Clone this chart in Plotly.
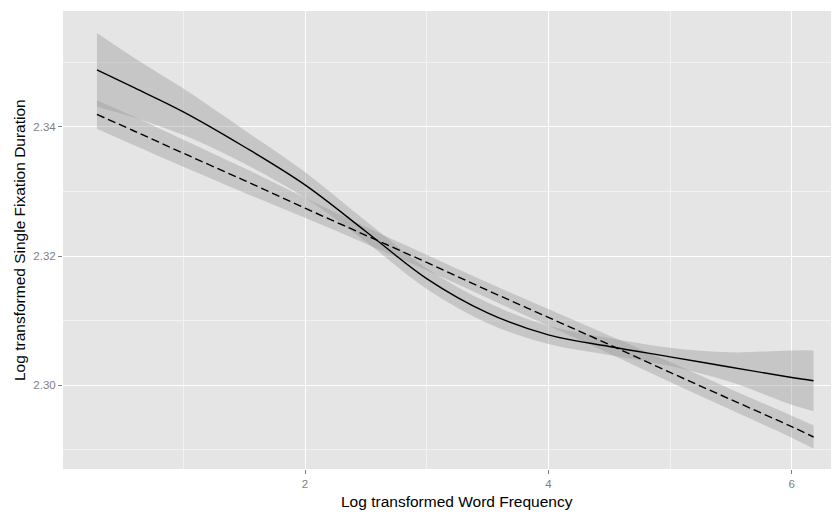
import plotly.graph_objects as go

# Log transformed word frequency (x positions where curves were read)
freq = [0.29, 0.6, 1.0, 1.5, 2.0, 2.5, 3.0, 3.5, 4.0, 4.5, 5.0, 5.5, 6.0, 6.18]

# Non-linear (solid) smooth fit and its confidence band
smooth_fit = [2.3488, 2.3460, 2.3423, 2.3369, 2.3310, 2.3238, 2.3165, 2.3112,
              2.3078, 2.3060, 2.3044, 2.3028, 2.3012, 2.3007]
smooth_upper = [2.3545, 2.3506, 2.3459, 2.3395, 2.3330, 2.3254, 2.3181, 2.3128,
                2.3092, 2.3073, 2.3058, 2.3051, 2.3054, 2.3054]
smooth_lower = [2.3431, 2.3414, 2.3387, 2.3343, 2.3290, 2.3222, 2.3149, 2.3096,
                2.3064, 2.3047, 2.3030, 2.3005, 2.2970, 2.2960]

# Linear (dashed) fit and its confidence band
linear_fit = [2.3419, 2.3393, 2.3359, 2.3317, 2.3274, 2.3232, 2.3190, 2.3147,
              2.3105, 2.3063, 2.3020, 2.2978, 2.2936, 2.2920]
linear_upper = [2.3441, 2.3415, 2.3380, 2.3336, 2.3290, 2.3245, 2.3202, 2.3159,
                2.3118, 2.3077, 2.3036, 2.2994, 2.2953, 2.2938]
linear_lower = [2.3397, 2.3371, 2.3338, 2.3298, 2.3259, 2.3219, 2.3178, 2.3135,
                2.3092, 2.3049, 2.3005, 2.2962, 2.2919, 2.2902]

x_ticks = [2, 4, 6]
y_ticks = [2.30, 2.32, 2.34]
x_title = "Log transformed Word Frequency"
y_title = "Log transformed Single Fixation Duration"

band_fill = "rgba(153,153,153,0.4)"
FONT = "Liberation Sans, Arial, Helvetica, sans-serif"

fig = go.Figure()

for lo, hi in [(smooth_lower, smooth_upper), (linear_lower, linear_upper)]:
    fig.add_trace(go.Scatter(x=freq, y=lo, mode="lines", line=dict(width=0, shape="spline"),
                             hoverinfo="skip", showlegend=False))
    fig.add_trace(go.Scatter(x=freq, y=hi, mode="lines", line=dict(width=0, shape="spline"),
                             fill="tonexty", fillcolor=band_fill, hoverinfo="skip", showlegend=False))

fig.add_trace(go.Scatter(x=freq, y=smooth_fit, mode="lines",
                         line=dict(color="black", width=1.4, shape="spline"), showlegend=False))
fig.add_trace(go.Scatter(x=freq, y=linear_fit, mode="lines",
                         line=dict(color="black", width=1.4, dash="8px,4px", shape="spline"),
                         showlegend=False))

# The page has an 8px body margin, so the figure is 8px smaller each way.
fig.update_layout(
    width=831, height=506,
    margin=dict(l=55, r=0, t=3, b=45),
    paper_bgcolor="white",
    plot_bgcolor="#E5E5E5",
    font=dict(family=FONT),
    showlegend=False,
    xaxis=dict(
        range=[0.011, 6.389],
        tickvals=x_ticks, ticktext=[str(v) for v in x_ticks],
        showgrid=True, gridcolor="white", gridwidth=1.2,
        minor=dict(tickvals=[1, 3, 5], showgrid=True, gridcolor="#F2F2F2", gridwidth=0.8, ticks=""),
        zeroline=False, showline=False,
        ticks="outside", ticklen=4, tickwidth=1, tickcolor="#7F7F7F",
        tickfont=dict(size=11.5, color="#7F7F7F", family=FONT),
    ),
    yaxis=dict(
        range=[2.28705, 2.3579],
        tickvals=y_ticks, ticktext=["%.2f" % v for v in y_ticks],
        showgrid=True, gridcolor="white", gridwidth=1.2,
        minor=dict(tickvals=[2.29, 2.31, 2.33, 2.35], showgrid=True, gridcolor="#F2F2F2", gridwidth=0.8, ticks=""),
        zeroline=False, showline=False,
        ticks="outside", ticklen=4, tickwidth=1, tickcolor="#7F7F7F",
        tickfont=dict(size=11.5, color="#7F7F7F", family=FONT),
    ),
    annotations=[
        dict(text=x_title, xref="paper", yref="paper", x=0.5077, y=-0.072,
             xanchor="center", yanchor="middle", showarrow=False,
             font=dict(size=15.5, color="black", family=FONT)),
        dict(text=y_title, xref="paper", yref="paper", x=-0.0567, y=0.5,
             xanchor="center", yanchor="middle", textangle=-90, showarrow=False,
             font=dict(size=15.5, color="black", family=FONT)),
    ],
)

fig.write_html("out.html")
